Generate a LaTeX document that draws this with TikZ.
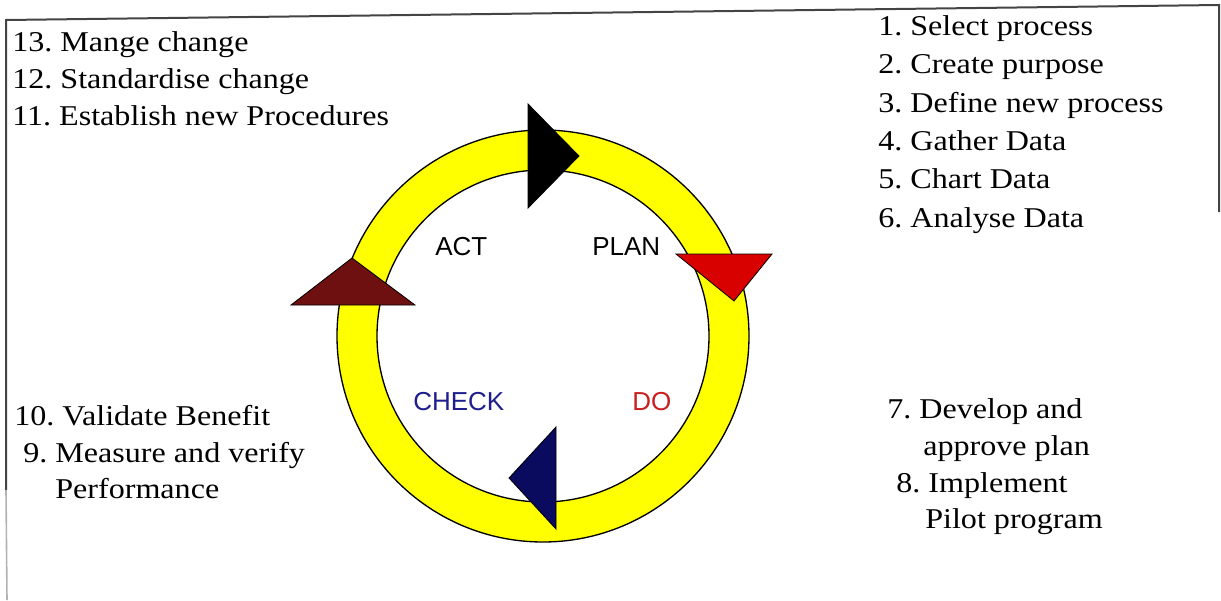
\documentclass[tikz,border=0pt]{standalone}
\usepackage{fontspec}
\setmainfont[FakeStretch=1.12]{Liberation Serif}
\newfontfamily\phasefont{Liberation Sans}
\frenchspacing
\definecolor{ringyellow}{HTML}{FFFF00}
\definecolor{planred}{HTML}{D90000}
\definecolor{actmaroon}{HTML}{6E1010}
\definecolor{checknavy}{HTML}{0A0A5E}
\definecolor{checktext}{HTML}{1E1E8C}
\definecolor{dotext}{HTML}{C81E1E}
\definecolor{framegray}{HTML}{444444}
\begin{document}
\begin{tikzpicture}[x=0.75pt,y=-0.75pt,
  item/.style={anchor=base west, inner sep=0pt,
    font=\fontsize{21.5pt}{28pt}\selectfont},
  phase/.style={anchor=base west, inner sep=0pt,
    font=\phasefont\fontsize{19.5pt}{22pt}\selectfont},
  pointer/.style={draw=black, line width=0.6pt, line join=miter}]
\useasboundingbox (0,0) rectangle (1221,600);

% frame
\draw[framegray, line width=1.5pt] (1219,212) -- (1219,5) -- (6,20) -- (6,490);
\draw[gray!60, line width=1.2pt] (6,490) -- (7,600);

% the cycle ring
\coordinate (c) at (543,336);
\fill[ringyellow, even odd rule] (c) circle[radius=206] (c) circle[radius=166];
\draw[line width=1pt] (c) circle[radius=206];
\draw[line width=1pt] (c) circle[radius=166];

% direction pointers on the ring
\filldraw[pointer, fill=black] (528,104) -- (579,156) -- (528,208) -- cycle;
\filldraw[pointer, fill=planred] (676,254) -- (772,254) -- (734,301) -- cycle;
\filldraw[pointer, fill=checknavy] (556,427) -- (556,529) -- (509,478) -- cycle;
\filldraw[pointer, fill=actmaroon] (291,305) -- (415,305) -- (352,258) -- cycle;

% phase names
\node[phase] (act) at (435,255) {ACT};
\node[phase] (plan) at (592,255) {PLAN};
\node[phase, text=checktext] (check) at (413,410) {CHECK};
\node[phase, text=dotext] (do) at (632,410) {DO};

% ACT steps
\node[item] (s13) at (12,51) {13. Mange change};
\node[item] (s12) at (12,88) {12. Standardise change};
\node[item] (s11) at (12,125) {11. Establish new Procedures};

% PLAN steps
\node[item] (s1) at (878,35) {1. Select process};
\node[item] (s2) at (878,73) {2. Create purpose};
\node[item] (s3) at (878,112) {3. Define new process};
\node[item] (s4) at (878,150) {4. Gather Data};
\node[item] (s5) at (878,188) {5. Chart Data};
\node[item] (s6) at (878,227) {6. Analyse Data};

% CHECK steps
\node[item] (s10) at (14,425) {10. Validate Benefit};
\node[item] (s9) at (23,462) {9. Measure and verify};
\node[item] (s9b) at (55,498) {Performance};

% DO steps
\node[item] (s7) at (887,418) {7. Develop and};
\node[item] (s7b) at (923,455) {approve plan};
\node[item] (s8) at (896,492) {8. Implement};
\node[item] (s8b) at (925,528) {Pilot program};
\end{tikzpicture}
\end{document}
